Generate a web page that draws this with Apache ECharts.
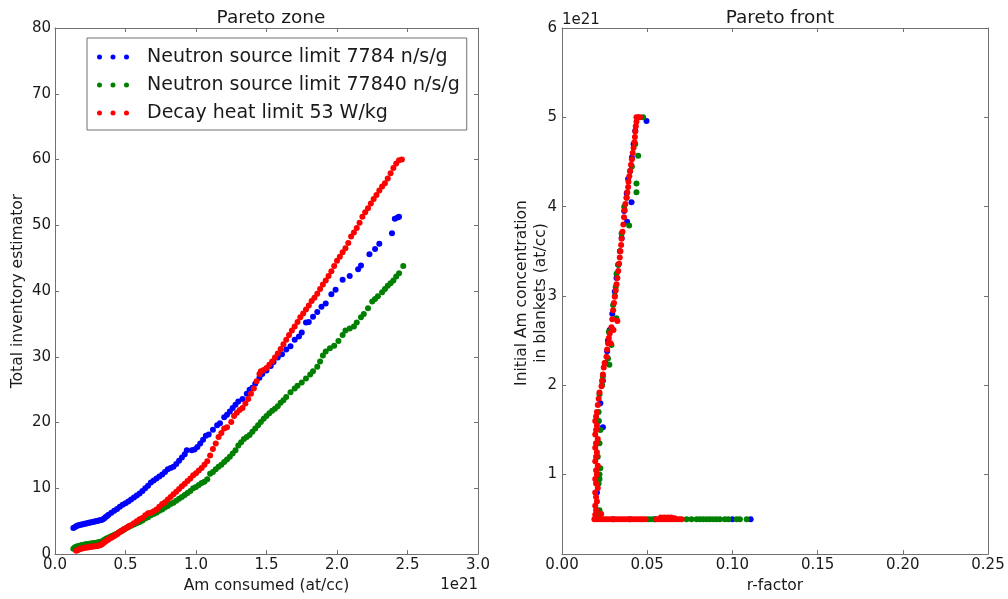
<!DOCTYPE html>
<html>
<head>
<meta charset="utf-8">
<script src="https://cdn.jsdelivr.net/npm/echarts@6/dist/echarts.min.js"></script>
<style>
html,body{margin:0;padding:0;background:#fff;}
#chart{width:1008px;height:599px;}
</style>
</head>
<body>
<div id="chart"></div>
<script>
// ---------- DATA ----------
var seriesNames = ['Neutron source limit 7784 n/s/g', 'Neutron source limit 77840 n/s/g', 'Decay heat limit 53 W/kg'];
var panelTitles = ['Pareto zone', 'Pareto front'];
var rightYNameLines = ['Initial Am concentration', 'in blankets (at/cc)'];

var leftXTicks = [0, 3, 0.5];      // min, max, interval (1e21 at/cc)
var leftYTicks = [0, 80, 10];
var rightXTicks = [0, 0.25, 0.05];
var rightYLabels = [1, 2, 3, 4, 5, 6]; // 1e21 at/cc

// Pareto zone: [Am consumed (1e21 at/cc), total inventory estimator]
var zoneBlue = [[0.13,3.95],[0.14,4.1],[0.15,4.25],[0.16,4.35],[0.17,4.4],[0.18,4.45],[0.19,4.5],[0.20,4.55],[0.21,4.6],[0.22,4.65],[0.23,4.7],[0.24,4.75],[0.25,4.8],[0.26,4.85],[0.27,4.9],[0.28,4.95],[0.29,5.0],[0.30,5.05],[0.31,5.1],[0.32,5.15],[0.33,5.2],[0.34,5.3],[0.35,5.45],[0.36,5.65],[0.37,5.8],[0.38,6.0],[0.40,6.3],[0.42,6.6],[0.44,6.85],[0.46,7.2],[0.48,7.5],[0.50,7.75],[0.52,8.0],[0.54,8.3],[0.56,8.6],[0.58,8.9],[0.60,9.2],[0.62,9.6],[0.64,10.0],[0.66,10.4],[0.68,10.9],[0.70,11.2],[0.72,11.5],[0.74,11.8],[0.76,12.1],[0.78,12.5],[0.80,12.9],[0.82,13.1],[0.84,13.3],[0.86,13.7],[0.88,14.2],[0.90,14.7],[0.92,15.2],[0.935,15.8],[0.97,15.8],[0.99,15.9],[1.01,16.3],[1.03,16.8],[1.05,17.4],[1.07,18.0],[1.09,18.2],[1.12,18.9],[1.15,19.6],[1.17,19.9],[1.20,20.8],[1.22,21.2],[1.24,21.7],[1.26,22.2],[1.28,22.7],[1.30,23.2],[1.33,23.6],[1.36,24.4],[1.38,25.0],[1.40,25.3],[1.42,25.9],[1.45,26.8],[1.47,27.4],[1.50,27.9],[1.53,28.6],[1.55,29.2],[1.58,29.9],[1.61,30.4],[1.64,31.1],[1.67,31.6],[1.70,32.6],[1.73,33.1],[1.75,33.7],[1.78,35.2],[1.80,35.3],[1.83,36.1],[1.86,36.8],[1.89,37.6],[1.92,38.1],[1.96,39.5],[1.99,40.2],[2.04,41.7],[2.09,42.3],[2.15,43.3],[2.17,43.9],[2.23,45.6],[2.27,46.4],[2.30,47.2],[2.39,48.8],[2.41,51.0],[2.43,51.2],[2.44,51.3]];

var zoneGreen = [[0.13,0.8],[0.14,1.0],[0.15,1.1],[0.16,1.2],[0.17,1.25],[0.18,1.3],[0.19,1.35],[0.20,1.4],[0.21,1.45],[0.22,1.5],[0.23,1.5],[0.24,1.55],[0.25,1.6],[0.26,1.6],[0.27,1.65],[0.28,1.7],[0.29,1.7],[0.30,1.75],[0.31,1.8],[0.32,1.85],[0.33,1.9],[0.34,2.0],[0.35,2.2],[0.36,2.3],[0.37,2.4],[0.38,2.5],[0.39,2.6],[0.40,2.7],[0.41,2.8],[0.42,2.9],[0.43,3.0],[0.44,3.1],[0.45,3.25],[0.46,3.4],[0.47,3.5],[0.48,3.6],[0.49,3.75],[0.50,3.9],[0.52,4.1],[0.54,4.3],[0.56,4.5],[0.58,4.7],[0.60,4.9],[0.62,5.1],[0.64,5.4],[0.66,5.6],[0.68,5.9],[0.70,6.1],[0.72,6.3],[0.74,6.6],[0.76,6.8],[0.78,7.1],[0.80,7.3],[0.82,7.6],[0.84,7.8],[0.86,8.1],[0.88,8.4],[0.90,8.7],[0.92,9.0],[0.94,9.3],[0.96,9.6],[0.98,10.0],[1.00,10.2],[1.02,10.5],[1.04,10.8],[1.06,11.0],[1.08,11.4],[1.10,12.2],[1.12,12.5],[1.14,12.9],[1.16,13.3],[1.18,13.6],[1.20,14.0],[1.22,14.4],[1.24,14.8],[1.26,15.3],[1.28,15.8],[1.30,16.5],[1.32,17.0],[1.34,17.5],[1.36,17.8],[1.38,18.1],[1.40,18.6],[1.42,19.1],[1.44,19.6],[1.46,20.1],[1.48,20.6],[1.50,21.0],[1.52,21.4],[1.54,21.8],[1.56,22.1],[1.58,22.5],[1.60,23.0],[1.62,23.4],[1.64,23.9],[1.67,24.6],[1.70,25.2],[1.72,25.6],[1.75,26.1],[1.78,26.7],[1.81,27.3],[1.83,27.8],[1.86,28.5],[1.88,29.3],[1.90,30.2],[1.92,30.8],[1.95,31.3],[1.98,31.7],[2.01,32.4],[2.04,33.3],[2.06,34.0],[2.09,34.3],[2.12,34.6],[2.14,35.2],[2.17,36.0],[2.19,36.5],[2.22,37.4],[2.25,38.4],[2.27,38.8],[2.29,39.2],[2.32,39.8],[2.34,40.3],[2.36,40.8],[2.38,41.2],[2.40,41.6],[2.42,42.2],[2.44,42.7],[2.47,43.8]];

var zoneRed = [[0.15,0.5],[0.16,0.6],[0.17,0.7],[0.18,0.8],[0.19,0.85],[0.20,0.9],[0.21,0.95],[0.22,1.0],[0.23,1.0],[0.24,1.05],[0.25,1.1],[0.26,1.1],[0.27,1.15],[0.28,1.2],[0.29,1.2],[0.30,1.25],[0.31,1.3],[0.32,1.35],[0.33,1.45],[0.34,1.6],[0.35,1.8],[0.36,1.95],[0.37,2.1],[0.38,2.25],[0.39,2.4],[0.40,2.5],[0.41,2.65],[0.42,2.75],[0.43,2.9],[0.44,3.0],[0.45,3.2],[0.46,3.35],[0.47,3.5],[0.48,3.65],[0.49,3.8],[0.50,3.9],[0.51,4.0],[0.52,4.2],[0.53,4.3],[0.54,4.4],[0.56,4.7],[0.58,5.0],[0.60,5.3],[0.62,5.5],[0.64,5.9],[0.66,6.2],[0.68,6.3],[0.70,6.5],[0.72,6.8],[0.74,7.2],[0.76,7.6],[0.78,7.9],[0.80,8.3],[0.82,8.7],[0.84,9.1],[0.86,9.5],[0.88,9.9],[0.90,10.3],[0.92,10.7],[0.94,11.1],[0.96,11.5],[0.98,12.0],[1.00,12.3],[1.02,12.7],[1.04,13.1],[1.06,13.6],[1.08,14.1],[1.10,15.0],[1.12,16.0],[1.14,16.8],[1.16,17.8],[1.18,18.4],[1.20,19.1],[1.22,19.3],[1.25,20.1],[1.27,21.0],[1.29,21.5],[1.31,21.9],[1.33,22.2],[1.35,22.9],[1.37,23.6],[1.39,24.4],[1.41,25.2],[1.43,26.3],[1.45,27.4],[1.46,27.8],[1.48,28.0],[1.50,28.3],[1.52,28.8],[1.54,29.3],[1.56,29.9],[1.58,30.5],[1.60,31.2],[1.62,31.9],[1.64,32.6],[1.66,33.3],[1.68,34.0],[1.70,34.6],[1.72,35.3],[1.74,36.0],[1.76,36.6],[1.78,37.2],[1.80,37.8],[1.82,38.5],[1.84,39.0],[1.86,39.6],[1.88,40.3],[1.90,41.0],[1.92,41.6],[1.94,42.3],[1.96,43.0],[1.98,43.8],[2.00,44.6],[2.02,45.2],[2.04,45.9],[2.06,46.5],[2.08,47.3],[2.10,48.3],[2.12,48.9],[2.14,49.6],[2.16,50.4],[2.18,51.3],[2.20,52.0],[2.22,52.6],[2.24,53.3],[2.26,54.0],[2.28,54.6],[2.30,55.3],[2.32,55.9],[2.34,56.4],[2.36,57.1],[2.38,57.9],[2.40,58.7],[2.42,59.4],[2.44,59.9],[2.46,60.0]];

// Pareto front: [r-factor, initial Am concentration in blankets (1e21 at/cc)]
var frontBlue = [[0.030,0.5],[0.040,0.5],[0.0545,0.5],[0.100,0.5],[0.1107,0.5],[0.0205,0.6],[0.0205,0.8],[0.021,1.0],[0.0205,1.2],[0.021,1.35],[0.024,1.53],[0.0215,1.6],[0.0225,1.8],[0.024,2.05],[0.0255,2.25],[0.0265,2.38],[0.027,2.5],[0.028,2.62],[0.0295,2.8],[0.031,3.05],[0.032,3.2],[0.033,3.35],[0.034,3.5],[0.035,3.65],[0.0382,3.83],[0.0365,3.95],[0.0408,4.05],[0.038,4.15],[0.0388,4.31],[0.040,4.4],[0.041,4.55],[0.042,4.7],[0.043,4.85],[0.0496,4.96]];

var frontGreen = [[0.0506,0.5],[0.0525,0.5],[0.0545,0.5],[0.0731,0.5],[0.076,0.5],[0.079,0.5],[0.0809,0.5],[0.0829,0.5],[0.0849,0.5],[0.0868,0.5],[0.0887,0.5],[0.0907,0.5],[0.0927,0.5],[0.0956,0.5],[0.0976,0.5],[0.1025,0.5],[0.1044,0.5],[0.1084,0.5],[0.0215,0.55],[0.022,0.6],[0.0215,0.9],[0.022,0.95],[0.022,1.0],[0.0225,1.07],[0.021,1.2],[0.022,1.35],[0.0225,1.5],[0.0215,1.6],[0.0215,1.7],[0.022,1.9],[0.0235,2.0],[0.024,2.1],[0.0278,2.23],[0.027,2.3],[0.029,2.45],[0.0275,2.6],[0.0319,2.75],[0.030,2.9],[0.031,3.0],[0.0315,3.1],[0.032,3.25],[0.033,3.35],[0.034,3.5],[0.035,3.7],[0.0394,3.79],[0.0365,4.0],[0.038,4.1],[0.0437,4.16],[0.0437,4.26],[0.041,4.45],[0.0447,4.57],[0.043,4.7],[0.0476,5.0]];

var frontRed = [[0.019,0.5],[0.0205,0.5],[0.022,0.5],[0.0235,0.5],[0.025,0.5],[0.0265,0.5],[0.028,0.5],[0.0295,0.5],[0.031,0.5],[0.0325,0.5],[0.034,0.5],[0.0355,0.5],[0.037,0.5],[0.0385,0.5],[0.040,0.5],[0.0415,0.5],[0.043,0.5],[0.0445,0.5],[0.046,0.5],[0.0475,0.5],[0.049,0.5],[0.0555,0.5],[0.057,0.5],[0.0585,0.5],[0.060,0.5],[0.0615,0.5],[0.063,0.5],[0.0645,0.5],[0.066,0.5],[0.0675,0.5],[0.069,0.5],[0.0702,0.5],[0.058,0.52],[0.060,0.52],[0.062,0.52],[0.064,0.52],[0.066,0.51],[0.0195,0.55],[0.023,0.56],[0.020,0.6],[0.0195,0.65],[0.0205,0.7],[0.020,0.75],[0.0195,0.8],[0.021,0.85],[0.020,0.9],[0.0195,0.95],[0.0205,1.0],[0.020,1.05],[0.021,1.1],[0.0195,1.15],[0.020,1.2],[0.0205,1.25],[0.0195,1.3],[0.020,1.35],[0.021,1.4],[0.0195,1.45],[0.020,1.5],[0.0205,1.55],[0.0195,1.6],[0.020,1.65],[0.0205,1.7],[0.021,1.78],[0.0215,1.85],[0.022,1.92],[0.0232,1.99],[0.0235,2.05],[0.024,2.12],[0.0245,2.2],[0.025,2.25],[0.0261,2.32],[0.0265,2.4],[0.027,2.47],[0.0285,2.47],[0.0275,2.53],[0.028,2.58],[0.029,2.65],[0.0302,2.62],[0.0325,2.72],[0.0295,2.74],[0.030,2.84],[0.0305,2.92],[0.031,2.99],[0.0315,3.06],[0.032,3.13],[0.0325,3.2],[0.033,3.28],[0.0335,3.36],[0.0339,3.43],[0.0343,3.5],[0.0347,3.57],[0.035,3.64],[0.0355,3.72],[0.036,3.8],[0.0364,3.88],[0.0368,3.96],[0.0372,4.03],[0.0378,4.1],[0.0383,4.16],[0.0388,4.22],[0.039,4.28],[0.0395,4.34],[0.040,4.4],[0.0405,4.47],[0.041,4.53],[0.0415,4.6],[0.042,4.66],[0.0425,4.72],[0.0428,4.78],[0.043,4.84],[0.0433,4.9],[0.0437,4.95],[0.0437,5.0],[0.0447,5.0],[0.0457,5.0]];

// ---------- STYLE ----------
var colors = ['#0000ff', '#008000', '#ff0000'];
var axisColor = '#707070';
var textColor = '#1a1a1a';
var FONT = 'DejaVu Sans';

var chart = echarts.init(document.getElementById('chart'), null, {renderer: 'canvas'});

function mainXAxis(grid, t, dec, name) {
  return {
    type: 'value', gridIndex: grid, min: t[0], max: t[1], interval: t[2], position: 'bottom',
    name: name, nameLocation: 'middle', nameGap: 19,
    nameTextStyle: {fontFamily: FONT, fontSize: 15.5, color: textColor},
    axisLine: {show: true, onZero: false, lineStyle: {color: axisColor, width: 1}},
    axisTick: {show: true, inside: true, length: 4, lineStyle: {color: axisColor}},
    axisLabel: {show: true, margin: 4, fontFamily: FONT, fontSize: 15, color: textColor,
      formatter: function (v) { return v.toFixed(dec); }},
    splitLine: {show: false}
  };
}
function topXAxis(grid, t) {
  return {
    type: 'value', gridIndex: grid, min: t[0], max: t[1], interval: t[2], position: 'top',
    axisLine: {show: true, onZero: false, lineStyle: {color: axisColor, width: 1}},
    axisTick: {show: true, inside: true, length: 4, lineStyle: {color: axisColor}},
    axisLabel: {show: false}, splitLine: {show: false}
  };
}

var option = {
  animation: false,
  backgroundColor: '#ffffff',
  color: colors,
  title: [
    {text: panelTitles[0], left: 266, top: 4, textAlign: 'center',
     textStyle: {fontFamily: FONT, fontSize: 18.5, fontWeight: 'normal', color: textColor}},
    {text: panelTitles[1], left: 775, top: 4, textAlign: 'center',
     textStyle: {fontFamily: FONT, fontSize: 18.5, fontWeight: 'normal', color: textColor}}
  ],
  legend: {
    data: seriesNames,
    orient: 'vertical',
    left: 87, top: 38,
    padding: [9, 7, 7, 10],
    backgroundColor: '#ffffff',
    borderColor: axisColor, borderWidth: 1,
    itemWidth: 32, itemHeight: 5, itemGap: 8,
    icon: 'path://M0,2.5a2.5,2.5 0 1,0 5,0a2.5,2.5 0 1,0 -5,0M13.5,2.5a2.5,2.5 0 1,0 5,0a2.5,2.5 0 1,0 -5,0M27,2.5a2.5,2.5 0 1,0 5,0a2.5,2.5 0 1,0 -5,0',
    textStyle: {fontFamily: FONT, fontSize: 19, color: textColor, lineHeight: 20, padding: [0, 0, 0, 13]},
    selectedMode: false
  },
  grid: [
    {left: 55, top: 28, width: 423, height: 532},
    {left: 562, top: 28, width: 426, height: 532}
  ],
  xAxis: [
    mainXAxis(0, leftXTicks, 1, 'Am consumed (at/cc)'),
    topXAxis(0, leftXTicks),
    mainXAxis(1, rightXTicks, 2, 'r-factor'),
    topXAxis(1, rightXTicks)
  ],
  yAxis: [
    {
      type: 'value', gridIndex: 0, min: leftYTicks[0], max: leftYTicks[1], interval: leftYTicks[2], position: 'left',
      name: 'Total inventory estimator', nameLocation: 'middle', nameGap: 29,
      nameTextStyle: {fontFamily: FONT, fontSize: 15.5, color: textColor},
      axisLine: {show: true, onZero: false, lineStyle: {color: axisColor}},
      axisTick: {show: true, inside: true, length: 4, lineStyle: {color: axisColor}},
      axisLabel: {show: true, margin: 4, fontFamily: FONT, fontSize: 15, color: textColor},
      splitLine: {show: false}
    },
    {
      type: 'value', gridIndex: 0, min: leftYTicks[0], max: leftYTicks[1], interval: leftYTicks[2], position: 'right',
      axisLine: {show: true, onZero: false, lineStyle: {color: axisColor}},
      axisTick: {show: true, inside: true, length: 4, lineStyle: {color: axisColor}},
      axisLabel: {show: false}, splitLine: {show: false}
    },
    {
      type: 'value', gridIndex: 1, min: 0.11, max: 6, position: 'left',
      axisLine: {show: true, onZero: false, lineStyle: {color: axisColor}},
      axisTick: {show: true, inside: true, length: 4, lineStyle: {color: axisColor}, customValues: rightYLabels},
      axisLabel: {show: true, margin: 5, fontFamily: FONT, fontSize: 15, color: textColor, customValues: rightYLabels},
      splitLine: {show: false}
    },
    {
      type: 'value', gridIndex: 1, min: 0.11, max: 6, position: 'right',
      axisLine: {show: true, onZero: false, lineStyle: {color: axisColor}},
      axisTick: {show: true, inside: true, length: 4, lineStyle: {color: axisColor}, customValues: rightYLabels},
      axisLabel: {show: false}, splitLine: {show: false}
    }
  ],
  graphic: [
    {type: 'text', right: 1008 - 478, top: 578,
     style: {text: '1e21', font: '15px "DejaVu Sans"', fill: textColor}},
    {type: 'text', left: 562, top: 13,
     style: {text: '1e21', font: '15px "DejaVu Sans"', fill: textColor}},
    {type: 'text', x: 522, y: 293, rotation: Math.PI / 2,
     style: {text: rightYNameLines[0], font: '15.5px "DejaVu Sans"', fill: textColor, textAlign: 'center', textVerticalAlign: 'middle'}},
    {type: 'text', x: 541, y: 293, rotation: Math.PI / 2,
     style: {text: rightYNameLines[1], font: '15.5px "DejaVu Sans"', fill: textColor, textAlign: 'center', textVerticalAlign: 'middle'}}
  ],
  series: [
    {name: seriesNames[0], type: 'scatter', xAxisIndex: 0, yAxisIndex: 0, data: zoneBlue, symbolSize: 6, itemStyle: {color: colors[0], opacity: 1}},
    {name: seriesNames[1], type: 'scatter', xAxisIndex: 0, yAxisIndex: 0, data: zoneGreen, symbolSize: 6, itemStyle: {color: colors[1], opacity: 1}},
    {name: seriesNames[2], type: 'scatter', xAxisIndex: 0, yAxisIndex: 0, data: zoneRed, symbolSize: 6, itemStyle: {color: colors[2], opacity: 1}},
    {name: seriesNames[0], type: 'scatter', xAxisIndex: 2, yAxisIndex: 2, data: frontBlue, symbolSize: 6, itemStyle: {color: colors[0], opacity: 1}},
    {name: seriesNames[1], type: 'scatter', xAxisIndex: 2, yAxisIndex: 2, data: frontGreen, symbolSize: 6, itemStyle: {color: colors[1], opacity: 1}},
    {name: seriesNames[2], type: 'scatter', xAxisIndex: 2, yAxisIndex: 2, data: frontRed, symbolSize: 6, itemStyle: {color: colors[2], opacity: 1}}
  ]
};
chart.setOption(option);
</script>
</body>
</html>
